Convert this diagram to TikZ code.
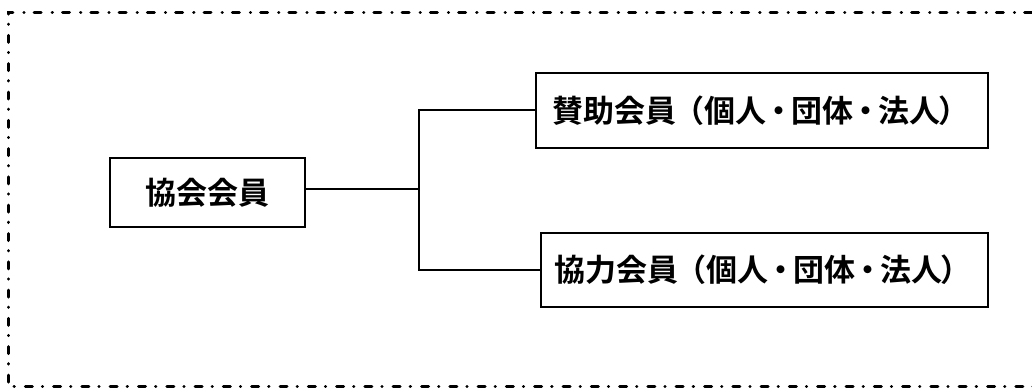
\documentclass[tikz,border=0pt]{standalone}
\usepackage{fontspec}
\newfontfamily\jp{Noto Sans CJK JP}[BoldFont={* Bold}]
\begin{document}
\begin{tikzpicture}[x=1pt,y=-1pt,
  boxnode/.style={draw=black,line width=1.8pt,inner sep=0pt,anchor=north west},
  conn/.style={draw=black,line width=1.8pt},
  lbl/.style={font=\jp\bfseries\fontsize{31}{31}\selectfont},
  frameline/.style={draw=black,line width=3pt,line cap=round,dash pattern=on 7pt off 10pt on 0.3pt off 11pt}]
\useasboundingbox (0,0) rectangle (1032,389);
\draw[frameline] (1060,12) -- (8,12) -- (8,386) -- (1060,386);
\node[boxnode,minimum width=195pt,minimum height=69pt] (main) at (109,157) {};
\node[lbl] (maint) at (main.center) {協会会員};
\node[boxnode,minimum width=452pt,minimum height=75pt] (b1) at (535,72) {};
\node[lbl] (b1t) at ([xshift=-1pt]b1.center) {賛助会員\kern-3pt（個人\kern-3pt・\kern-3pt団体\kern-3pt・\kern-3pt法人\kern-2pt）};
\node[boxnode,minimum width=447pt,minimum height=74pt] (b2) at (540,232) {};
\node[lbl] (b2t) at ([xshift=-1pt]b2.center) {協力会員\kern-3pt（個人\kern-3pt・\kern-3pt団体\kern-3pt・\kern-3pt法人\kern-2pt）};
\coordinate (j) at (419,189);
\draw[conn] (main.east |- j) -- (j);
\draw[conn] (b1.west |- 0,110) -| (419,270) -- (b2.west |- 0,270);
\end{tikzpicture}
\end{document}
